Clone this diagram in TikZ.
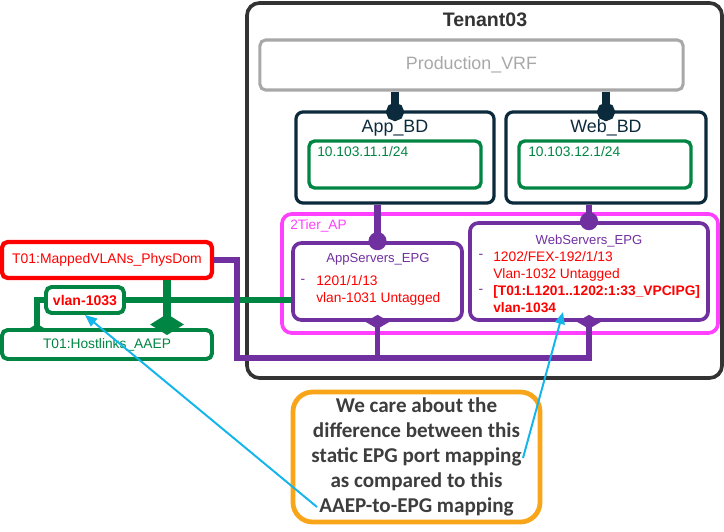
\documentclass[tikz,border=0pt]{standalone}
\usepackage{fontspec}
\setmainfont{Liberation Sans}
\newfontfamily\calloutfont{Carlito}
\usetikzlibrary{arrows.meta,positioning}
\definecolor{tenantgray}{HTML}{333333}
\definecolor{vrfgray}{HTML}{A8A8A8}
\definecolor{bdnavy}{HTML}{0B2B3C}
\definecolor{subgreen}{HTML}{008542}
\definecolor{apmagenta}{HTML}{FF40FF}
\definecolor{epgpurple}{HTML}{7030A0}
\definecolor{physred}{HTML}{FF0000}
\definecolor{noteorange}{HTML}{F9A51A}
\definecolor{notegray}{HTML}{3D3D3D}
\definecolor{pointcyan}{HTML}{13B5EA}
\tikzset{
  tenantbox/.style={draw=tenantgray,line width=2.6pt,rounded corners=9pt,inner sep=0pt},
  vrfbox/.style={draw=vrfgray,line width=2.2pt,rounded corners=4pt,inner sep=0pt,
                 text=vrfgray,font=\fontsize{12.7}{15}\selectfont},
  bdbox/.style={draw=bdnavy,line width=2.3pt,rounded corners=5pt,inner sep=0pt},
  subnetbox/.style={draw=subgreen,line width=2.4pt,rounded corners=4pt,inner sep=0pt},
  apbox/.style={draw=apmagenta,line width=2.6pt,rounded corners=7pt,inner sep=0pt},
  epgbox/.style={draw=epgpurple,line width=2.6pt,rounded corners=6pt,inner sep=0pt},
  domainbox/.style={draw=physred,line width=3pt,rounded corners=4pt,inner sep=0pt,
                    text=physred,font=\fontsize{9.9}{12}\selectfont},
  vlanbox/.style={draw=subgreen,line width=2.8pt,rounded corners=4pt,inner sep=0pt,
                  text=physred,font=\bfseries\fontsize{10}{12}\selectfont},
  aaepbox/.style={draw=subgreen,line width=2.8pt,rounded corners=4pt,inner sep=0pt,
                  text=subgreen,font=\fontsize{9.8}{12}\selectfont},
  notebox/.style={draw=noteorange,line width=3.4pt,rounded corners=14pt,inner sep=0pt,
                  text=notegray,align=center,
                  font=\calloutfont\bfseries\fontsize{15}{17.8}\selectfont},
  titletext/.style={inner sep=0pt,text=tenantgray,font=\bfseries\fontsize{13.9}{16}\selectfont},
  bdlabel/.style={inner sep=0pt,text=bdnavy,font=\fontsize{12.7}{15}\selectfont},
  subnettext/.style={inner sep=0pt,text=subgreen,font=\fontsize{9.8}{12}\selectfont},
  aptext/.style={inner sep=0pt,text=apmagenta,font=\fontsize{9.7}{12}\selectfont},
  epglabel/.style={inner sep=0pt,text=epgpurple,font=\fontsize{9.3}{12}\selectfont},
  porttext/.style={inner sep=0pt,text=physred,align=left,font=\fontsize{9.8}{12}\selectfont},
  dashtext/.style={inner sep=0pt,text=epgpurple,font=\fontsize{9.8}{12}\selectfont},
  vrflink/.style={draw=bdnavy,line width=6.2pt,-{Circle[length=12.8pt]},shorten >=-7.5pt},
  bdlink/.style={draw=epgpurple,line width=4.6pt,-{Circle[length=12.8pt]},shorten >=-6.4pt},
  epglink/.style={draw=epgpurple,line width=4pt,-{Diamond[length=10pt,width=17pt]},
                  shorten >=-5pt},
  aaeplink/.style={draw=subgreen,line width=5.7pt,-{Diamond[length=15pt,width=24pt]},
                   shorten >=-5pt},
  vlanlink/.style={draw=subgreen,line width=3.6pt,-{Diamond[length=6pt,width=10pt]},
                   shorten >=-3pt},
  vlanwire/.style={draw=subgreen,line width=3.6pt},
  pointer/.style={draw=pointcyan,line width=1.4pt,-{Triangle[length=8.5pt,width=7pt]}}
}
\begin{document}
\begin{tikzpicture}[x=0.025cm,y=-0.025cm]
  \path[use as bounding box] (0,0) rectangle (724,532);
  \node[tenantbox,minimum width=11.875cm,minimum height=9.375cm] (tenant) at (484.5,190.5) {};
  \node[titletext] (tenantlbl) at (485,20) {Tenant03};
  \node[vrfbox,minimum width=10.575cm,minimum height=1.25cm] (vrf) at (471.5,65) {Production\_VRF};
  \node[bdbox,minimum width=4.95cm,minimum height=2.275cm] (appbd) at (395,157.5) {};
  \node[bdbox,minimum width=5cm,minimum height=2.275cm] (webbd) at (606,157.5) {};
  \node[bdlabel] (appbdlbl) at (395,128) {App\_BD};
  \node[bdlabel] (webbdlbl) at (606,128) {Web\_BD};
  \node[subnetbox,minimum width=4.3cm,minimum height=1.175cm] (appsub) at (395,164.5) {};
  \node[subnetbox,minimum width=4.3cm,minimum height=1.175cm] (websub) at (605,164.5) {};
  \node[subnettext,anchor=west] (appnet) at (317,152) {10.103.11.1/24};
  \node[subnettext,anchor=west] (webnet) at (528,152) {10.103.12.1/24};
  \node[apbox,minimum width=10.9cm,minimum height=2.975cm] (ap) at (500,273.5) {};
  \node[aptext,anchor=west] (aplbl) at (290,226) {2Tier\_AP};
  \node[epgbox,minimum width=4.225cm,minimum height=1.925cm] (appepg) at (377.5,281.5) {};
  \node[epgbox,minimum width=5.95cm,minimum height=2.425cm] (webepg) at (589,271.5) {};
  \node[epglabel] (appepglbl) at (378,259) {AppServers\_EPG};
  \node[epglabel] (webepglbl) at (589,241) {WebServers\_EPG};
  \node[dashtext] (appdash) at (303,281) {-};
  \node[porttext,anchor=west] (appports) at (316,290.5)
    {1201/1/13\\vlan-1031 Untagged};
  \node[dashtext] (webdasha) at (481,256) {-};
  \node[dashtext] (webdashb) at (481,291) {-};
  \node[porttext,anchor=west] (webports) at (493,282)
    {1202/FEX-192/1/13\\Vlan-1032 Untagged\\
     \textbf{[T01:L1201..1202:1:33\_VPCIPG]}\\\textbf{vlan-1034}};
  \node[domainbox,minimum width=5.25cm,minimum height=0.9cm] (physdom) at (107,260)
    {T01:MappedVLANs\_PhysDom};
  \node[vlanbox,minimum width=1.95cm,minimum height=0.65cm] (vlan) at (85,300) {vlan-1033};
  \node[aaepbox,minimum width=5.25cm,minimum height=0.725cm] (aaep) at (107,344.5)
    {T01:Hostlinks\_AAEP};
  \node[notebox,minimum width=6.175cm,minimum height=3.25cm] (note) at (416.5,457)
    {We care about the\\difference between this\\static EPG port mapping\\
     as compared to this\\AAEP-to-EPG mapping};
  \coordinate (pdtap) at (167,260);
  \coordinate (vtap) at (37,300);
  \coordinate (bus) at (237,358);
  \coordinate (notetaila) at (523,458);
  \coordinate (notetailb) at (317,507);
  \coordinate (webtip) at (563,312);
  \draw[vrflink] (vrf.south -| appbd) -- (appbd.north);
  \draw[vrflink] (vrf.south -| webbd) -- (webbd.north);
  \draw[bdlink] (appepg.north |- appbd.south) -- (appepg.north);
  \draw[bdlink] (webepg.north |- webbd.south) -- (webepg.north);
  \draw[vlanwire] (vlan.east) -- (vlan.east -| appepg.west);
  \draw[vlanlink] (vlan.west) -- (vtap) -- (vtap |- aaep.north);
  \draw[aaeplink] (pdtap |- physdom.south) -- (pdtap |- aaep.north);
  \draw[epglink] (physdom.east) -| (bus) -| (webepg.south);
  \draw[epglink] (bus -| appepg.south) -- (appepg.south);
  \draw[pointer] (notetaila) -- (webtip);
  \draw[pointer] (notetailb) -- (vlan.south);
\end{tikzpicture}
\end{document}
